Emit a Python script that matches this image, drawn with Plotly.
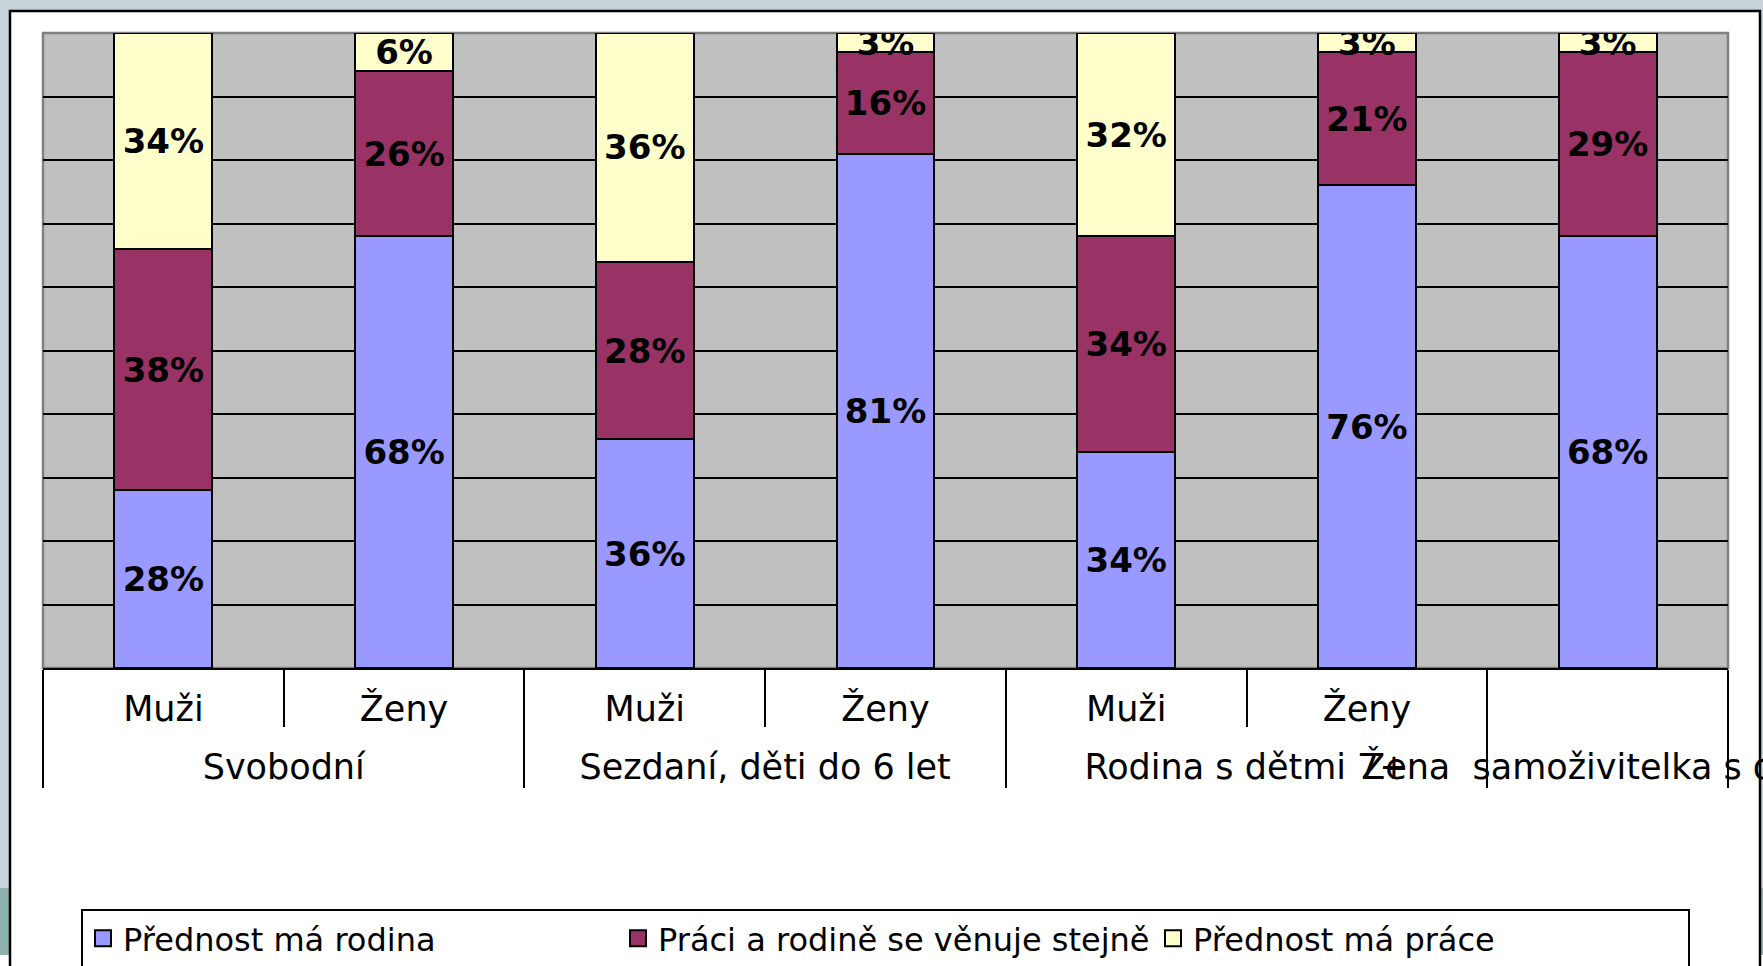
import plotly.graph_objects as go

# ---- data ----
groups = ["Svobodní", "Svobodní",
          "Sezdaní, děti do 6 let", "Sezdaní, děti do 6 let",
          "Rodina s dětmi 7+", "Rodina s dětmi 7+",
          "Žena\u00a0 samoživitelka s dětmi"]
genders = ["Muži", "Ženy", "Muži", "Ženy", "Muži", "Ženy", ""]
rodina = [28, 68, 36, 81, 34, 76, 68]
stejne = [38, 26, 28, 16, 34, 21, 29]
prace = [34, 6, 36, 3, 32, 3, 3]
series_names = ["Přednost má rodina", "Práci a rodině se věnuje stejně", "Přednost má práce"]
series_values = [rodina, stejne, prace]
colors = ["#9999FF", "#993366", "#FFFFCC"]

# ---- geometry ----
W, H = 1763, 966
L, R, T, B = 43, 35, 33, 298
PW, PH = W - L - R, H - T - B


def px(xp):
    return (xp - L) / PW


def py(yp):
    return (H - B - yp) / PH


FONT = "DejaVu Sans"

# the blank inner label is an (invisible) tall space so that the outer label row sits lower
inner_labels = [g if g else '<span style="font-size:56px">\u00a0</span>' for g in genders]

fig = go.Figure()
for name, vals, col in zip(series_names, series_values, colors):
    fig.add_trace(go.Bar(
        x=[groups, inner_labels], y=vals, name=name, showlegend=False,
        marker=dict(color=col, line=dict(color="black", width=2)),
        text=[f"{v}%" for v in vals],
        textposition="inside", insidetextanchor="middle",
        constraintext="none", textangle=0,
        textfont=dict(family=FONT, size=34, color="black", weight="bold"),
        cliponaxis=True,
    ))
# legend keys (larger square swatches, no visible points)
for name, col in zip(series_names, colors):
    fig.add_trace(go.Scatter(
        x=[[groups[0]], [inner_labels[0]]], y=[None], name=name, mode="markers",
        marker=dict(symbol="square", size=16, color=col, line=dict(color="black", width=2)),
        showlegend=True, hoverinfo="skip",
    ))

slide = "#C7D2D9"
teal = "#8FB1B0"
shapes = [
    dict(type="rect", xref="paper", yref="paper", x0=-1, x1=2, y0=py(11), y1=2,
         fillcolor=slide, line=dict(width=0), layer="below"),
    dict(type="rect", xref="paper", yref="paper", x0=-1, x1=px(10), y0=py(888), y1=py(11),
         fillcolor=slide, line=dict(width=0), layer="below"),
    dict(type="rect", xref="paper", yref="paper", x0=-1, x1=px(10), y0=py(955), y1=py(888),
         fillcolor=teal, line=dict(width=0), layer="below"),
    dict(type="rect", xref="paper", yref="paper", x0=px(1760), x1=2, y0=py(888), y1=py(11),
         fillcolor=slide, line=dict(width=0), layer="below"),
    dict(type="rect", xref="paper", yref="paper", x0=px(1760), x1=2, y0=py(955), y1=py(888),
         fillcolor=teal, line=dict(width=0), layer="below"),
    dict(type="rect", xref="paper", yref="paper", x0=px(10), x1=px(1760), y0=py(1000), y1=py(11),
         fillcolor="rgba(0,0,0,0)", line=dict(color="black", width=2.5), layer="below"),
    dict(type="rect", xref="paper", yref="paper", x0=0, x1=1, y0=0, y1=1,
         fillcolor="rgba(0,0,0,0)", line=dict(color="#808080", width=2.5), layer="below"),
]

fig.update_layout(
    width=W, height=H,
    margin=dict(l=L, r=R, t=T, b=B, autoexpand=False),
    paper_bgcolor="white", plot_bgcolor="#C0C0C0",
    barmode="stack", bargap=0.593,
    showlegend=True,
    legend=dict(orientation="h", x=0.5, xanchor="center", y=py(909), yanchor="top",
                bordercolor="black", borderwidth=2, bgcolor="white",
                font=dict(family=FONT, size=32, color="black"),
                traceorder="normal", entrywidth=490, entrywidthmode="pixels"),
    shapes=shapes,
    font=dict(family=FONT, color="black"),
)

fig.update_xaxes(
    type="multicategory",
    showline=True, linecolor="black", linewidth=2,
    showgrid=False,
    ticks="outside", tickson="boundaries", ticklen=57, tickwidth=2, tickcolor="black",
    tickangle=0, ticklabelstandoff=9,
    showdividers=True, dividercolor="black", dividerwidth=2,
    tickfont=dict(family=FONT, size=35, color="black"),
    automargin=False,
)
fig.update_yaxes(
    range=[0, 100], tickmode="array", tickvals=list(range(10, 100, 10)),
    showgrid=True, gridcolor="black", gridwidth=2,
    showticklabels=False, ticks="", zeroline=False, showline=False,
    automargin=False,
)

fig.write_html("out.html", config={"displayModeBar": False},
               post_script="document.body.style.margin='0';document.body.style.overflow='hidden';")
